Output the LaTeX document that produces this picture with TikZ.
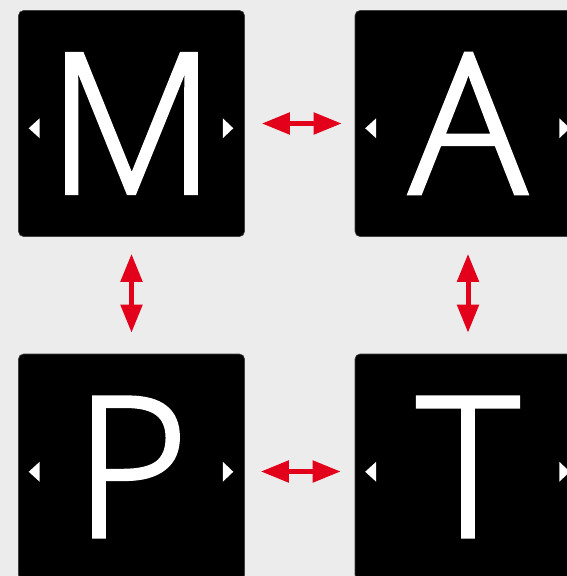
\documentclass[tikz,border=0pt]{standalone}
\usepackage{fontspec}
\newfontfamily\letterfont{Open Sans Light}[FakeBold=2]
\usetikzlibrary{arrows.meta,calc}
\definecolor{bg}{HTML}{ECECEC}
\definecolor{arrowred}{HTML}{E2001A}
\tikzset{
  tile/.style={fill=black, draw=black!75, line width=0.6pt, rounded corners=5pt, minimum size=226pt, inner sep=0pt, text=white, font=\letterfont\fontsize{195}{195}\selectfont},
  link/.style={draw=arrowred, fill=arrowred, line width=5pt, {Triangle[length=28pt,width=21pt]}-{Triangle[length=28pt,width=21pt]}},
  marker/.style={fill=white}
}
\begin{document}
\begin{tikzpicture}[x=1pt,y=-1pt]
\useasboundingbox (0,0) rectangle (567,576);
\clip (0,0) rectangle (567,576);
\fill[bg] (0,0) rectangle (567,576);
\node[tile] (M) at (131.5,123.5) {M};
\node[tile] (A) at (468,123.5) {A};
\node[tile] (P) at (131.5,467) {P};
\node[tile] (T) at (468,467) {T};
\foreach \n in {M,A,P,T}{
  \fill[marker] ($(\n.west)+(10.5,4.75)$) -- ++(11,-10) -- ++(0,20) -- cycle;
  \fill[marker] ($(\n.east)+(-11.5,4.75)$) -- ++(-10.5,-10) -- ++(0,20) -- cycle;
}
\draw[link, shorten <=17pt, shorten >=13pt] (M) -- (A);
\draw[link, shorten <=16pt, shorten >=14pt] ([yshift=-4.5pt]P.east) -- ([yshift=-4.5pt]T.west);
\draw[link, shorten <=17pt, shorten >=21pt] (M) -- (P);
\draw[link, shorten <=17pt, shorten >=21pt] (A) -- (T);
\end{tikzpicture}
\end{document}
